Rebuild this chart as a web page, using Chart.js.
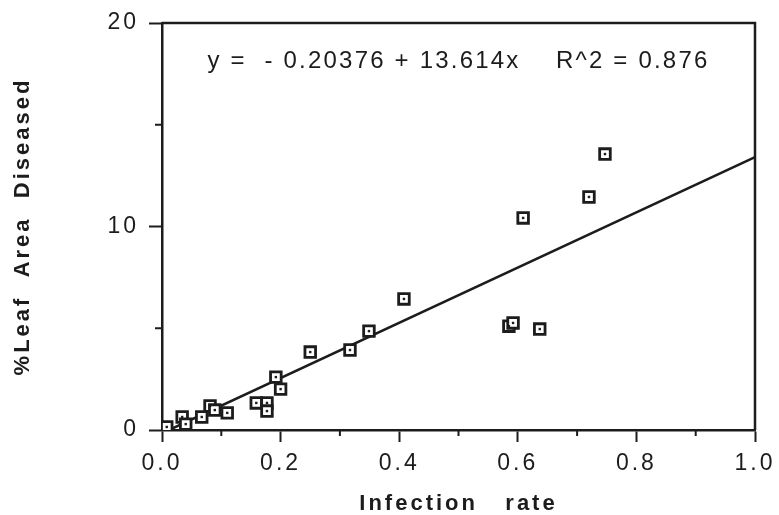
<!DOCTYPE html>
<html>
<head>
<meta charset="utf-8">
<script src="https://cdn.jsdelivr.net/npm/chart.js@4.4.1/dist/chart.umd.min.js"></script>
<style>
  html, body { margin: 0; padding: 0; background: #fff; }
  #wrap { width: 779px; height: 515px; }
</style>
</head>
<body>
<div id="wrap"><canvas id="chart"></canvas></div>
<script>
// ---------- data ----------
const infectionRate = [0.008, 0.034, 0.040, 0.067, 0.081, 0.089, 0.110, 0.159, 0.177, 0.177, 0.192,
                       0.200, 0.250, 0.317, 0.349, 0.408, 0.585, 0.592, 0.609, 0.637, 0.720, 0.747];
const leafDiseased  = [0.15, 0.64, 0.29, 0.64, 1.18, 0.98, 0.84, 1.33, 1.33, 0.93, 2.60,
                       2.01, 3.83, 3.93, 4.86, 6.44, 5.10, 5.26, 10.42, 4.96, 11.45, 13.56];

// fitted line as drawn (ends of the segment)
const fitX = [0.012, 1.0];
const fitY = [0.0, 13.41];

const xTicks = [0.0, 0.2, 0.4, 0.6, 0.8, 1.0];
const yTicks = [0, 10, 20];
const equationText = 'y =  - 0.20376 + 13.614x    R^2 = 0.876';

const INK = '#1c1c1c';
const FONT = "'Liberation Sans', Arial, sans-serif";

const points = infectionRate.map((x, i) => ({ x: x, y: leafDiseased[i] }));
const fitLine = fitX.map((x, i) => ({ x: x, y: fitY[i] }));

const isMajorX = v => xTicks.some(t => Math.abs(t - v) < 1e-6);
const isMajorY = v => yTicks.includes(v);

// =====================================
// FRAME, MINOR TICKS, EQUATION
// =====================================
const framePlugin = {
    id: 'frame',
    beforeLayout(chart) { chart.ctx.letterSpacing = '3px'; },
    beforeDraw(chart) { chart.ctx.letterSpacing = '3px'; },
    afterDraw(chart) {
        const { ctx, chartArea: a, scales: { x, y } } = chart;
        ctx.save();
        ctx.strokeStyle = INK;
        ctx.lineWidth = 2.5;
        ctx.beginPath();
        ctx.moveTo(a.left, a.top);
        ctx.lineTo(a.right, a.top);
        ctx.lineTo(a.right, a.bottom);
        ctx.stroke();

        ctx.lineWidth = 2;
        ctx.beginPath();
        x.ticks.forEach(t => {
            if (isMajorX(t.value)) return;
            const px = x.getPixelForValue(t.value);
            ctx.moveTo(px, a.bottom);
            ctx.lineTo(px, a.bottom + 6);
        });
        y.ticks.forEach(t => {
            if (isMajorY(t.value)) return;
            const py = y.getPixelForValue(t.value);
            ctx.moveTo(a.left, py);
            ctx.lineTo(a.left - 7, py);
        });
        ctx.stroke();

        ctx.letterSpacing = '2.2px';
        ctx.fillStyle = INK;
        ctx.font = '24px ' + FONT;
        ctx.textAlign = 'center';
        ctx.textBaseline = 'middle';
        ctx.fillText(equationText, x.getPixelForValue(0.5), y.getPixelForValue(18.1));
        ctx.restore();
    }
};

new Chart(document.getElementById('chart'), {
    type: 'scatter',
    data: {
        datasets: [
            {
                label: 'centre',
                data: points,
                order: 0,
                pointStyle: 'rect',
                pointRadius: 1.7,
                pointBackgroundColor: INK,
                pointBorderWidth: 0
            },
            {
                label: 'observed',
                data: points,
                order: 1,
                pointStyle: 'rect',
                pointRadius: 7.5,
                pointBackgroundColor: '#fff',
                pointBorderColor: INK,
                pointBorderWidth: 2.8
            },
            {
                label: 'fit',
                data: fitLine,
                order: 2,
                showLine: true,
                borderColor: INK,
                borderWidth: 2.5,
                pointRadius: 0
            }
        ]
    },
    options: {
        responsive: true,
        maintainAspectRatio: false,
        animation: false,
        events: [],
        layout: { padding: { left: 0, top: 23, right: 24, bottom: 0 } },
        plugins: {
            legend: { display: false },
            tooltip: { enabled: false }
        },
        scales: {
            x: {
                type: 'linear',
                min: 0,
                max: 1,
                afterFit: s => { s.height = 85; s.paddingLeft = 0; s.paddingRight = 0; },
                border: { display: true, color: INK, width: 2.5 },
                grid: {
                    drawOnChartArea: false,
                    drawTicks: true,
                    tickLength: 12,
                    tickWidth: 2,
                    tickColor: c => isMajorX(c.tick.value) ? INK : 'rgba(0,0,0,0)'
                },
                ticks: {
                    stepSize: 0.1,
                    autoSkip: false,
                    maxRotation: 0,
                    padding: 8,
                    color: INK,
                    font: { family: FONT, size: 23 },
                    callback: v => isMajorX(v) ? v.toFixed(1) : ''
                },
                title: {
                    display: true,
                    text: 'Infection   rate',
                    color: INK,
                    font: { family: FONT, size: 22, weight: 'bold', lineHeight: 1 },
                    padding: { top: 0, bottom: 0 }
                }
            },
            y: {
                type: 'linear',
                min: 0,
                max: 20,
                afterFit: s => { s.width = 162; s.paddingTop = 0; s.paddingBottom = 0; },
                border: { display: true, color: INK, width: 2.5 },
                grid: {
                    drawOnChartArea: false,
                    drawTicks: true,
                    tickLength: 13,
                    tickWidth: 2,
                    tickColor: c => isMajorY(c.tick.value) ? INK : 'rgba(0,0,0,0)'
                },
                ticks: {
                    stepSize: 5,
                    autoSkip: false,
                    padding: 10,
                    color: INK,
                    font: { family: FONT, size: 23 },
                    callback: v => isMajorY(v) ? String(v) : ''
                },
                title: {
                    display: true,
                    text: '%Leaf  Area  Diseased',
                    color: INK,
                    font: { family: FONT, size: 22, weight: 'bold', lineHeight: 1.2 },
                    padding: { top: 10, bottom: 0 }
                }
            }
        }
    },
    plugins: [framePlugin]
});
</script>
</body>
</html>
